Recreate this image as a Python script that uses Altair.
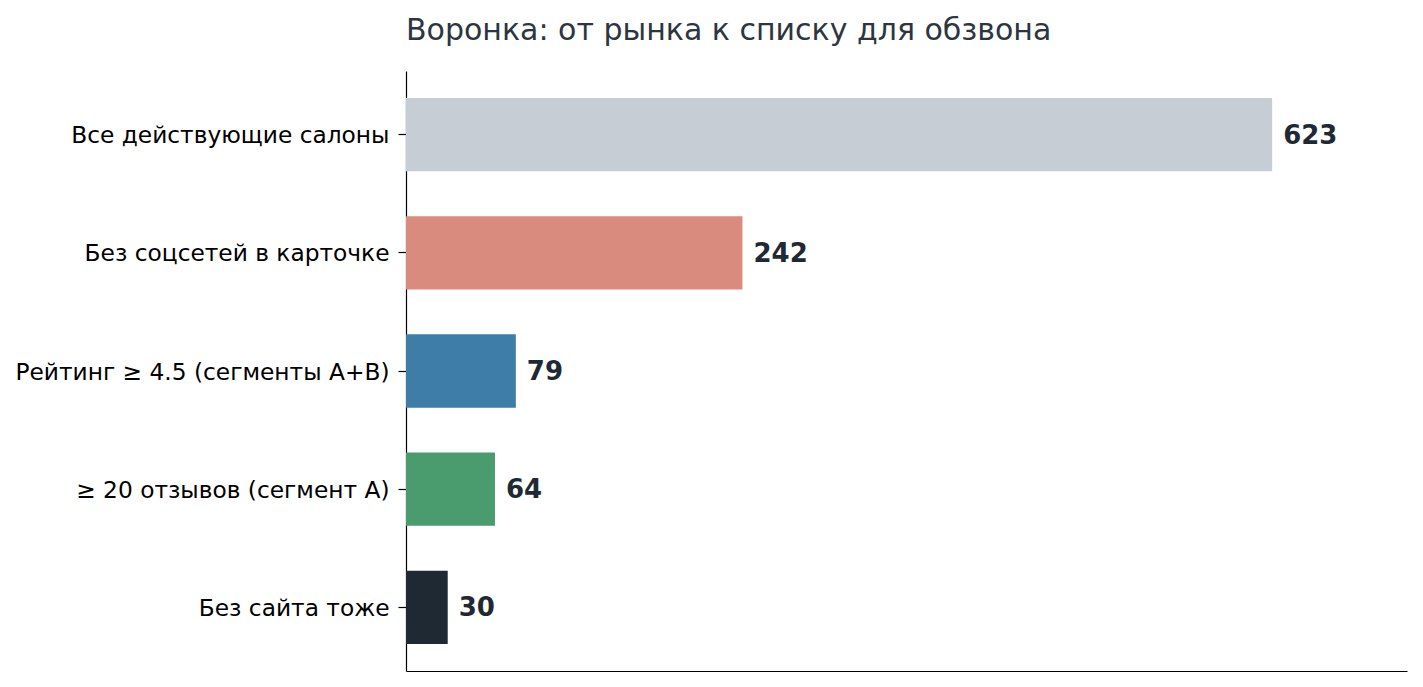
import altair as alt
import pandas as pd

stages = [
    "Все действующие салоны",
    "Без соцсетей в карточке",
    "Рейтинг ≥ 4.5 (сегменты A+B)",
    "≥ 20 отзывов (сегмент A)",
    "Без сайта тоже",
]
counts = [623, 242, 79, 64, 30]
colors = ["#c6cdd5", "#d98b7e", "#3d7da7", "#4a9c6e", "#1f2933"]

df = pd.DataFrame({"stage": stages, "count": counts, "color": colors})

y = alt.Y(
    "stage:N",
    sort=stages,
    title=None,
    scale=alt.Scale(paddingInner=0.38, paddingOuter=0.228),
    axis=alt.Axis(
        labelFont="DejaVu Sans",
        labelFontSize=23.3,
        labelColor="#000000",
        labelPadding=9,
        labelOffset=1.5,
        tickSize=8,
        tickColor="#000000",
        tickWidth=1.2,
        domainColor="#000000",
        domainWidth=1.2,
        labelLimit=700,
    ),
)
x = alt.X(
    "count:Q",
    title=None,
    scale=alt.Scale(domain=[0, 720], nice=False, zero=True),
    axis=alt.Axis(
        labels=False, ticks=False, grid=False,
        domainColor="#000000", domainWidth=1.2,
    ),
)

bars = alt.Chart(df).mark_bar().encode(
    x=x, y=y, color=alt.Color("color:N", scale=None, legend=None)
)
labels = alt.Chart(df).mark_text(
    align="left", baseline="middle", dx=11, dy=1,
    font="DejaVu Sans", fontSize=26, fontWeight="bold", color="#1f2933",
).encode(x=x, y=y, text="count:Q")

chart = (
    (bars + labels)
    .properties(
        width=1001,
        height=600,
        autosize=alt.AutoSizeParams(type="none"),
        padding={"left": 398, "top": 63, "right": 8, "bottom": 8},
        title=alt.TitleParams(
            "Воронка: от рынка к списку для обзвона",
            anchor="start",
            frame="group",
            font="DejaVu Sans",
            fontSize=30,
            fontWeight="normal",
            color="#2d3640",
            offset=25,
        ),
    )
    .configure_view(stroke=None)
)

chart.save("out.html", embed_options={"renderer": "svg", "actions": False})
